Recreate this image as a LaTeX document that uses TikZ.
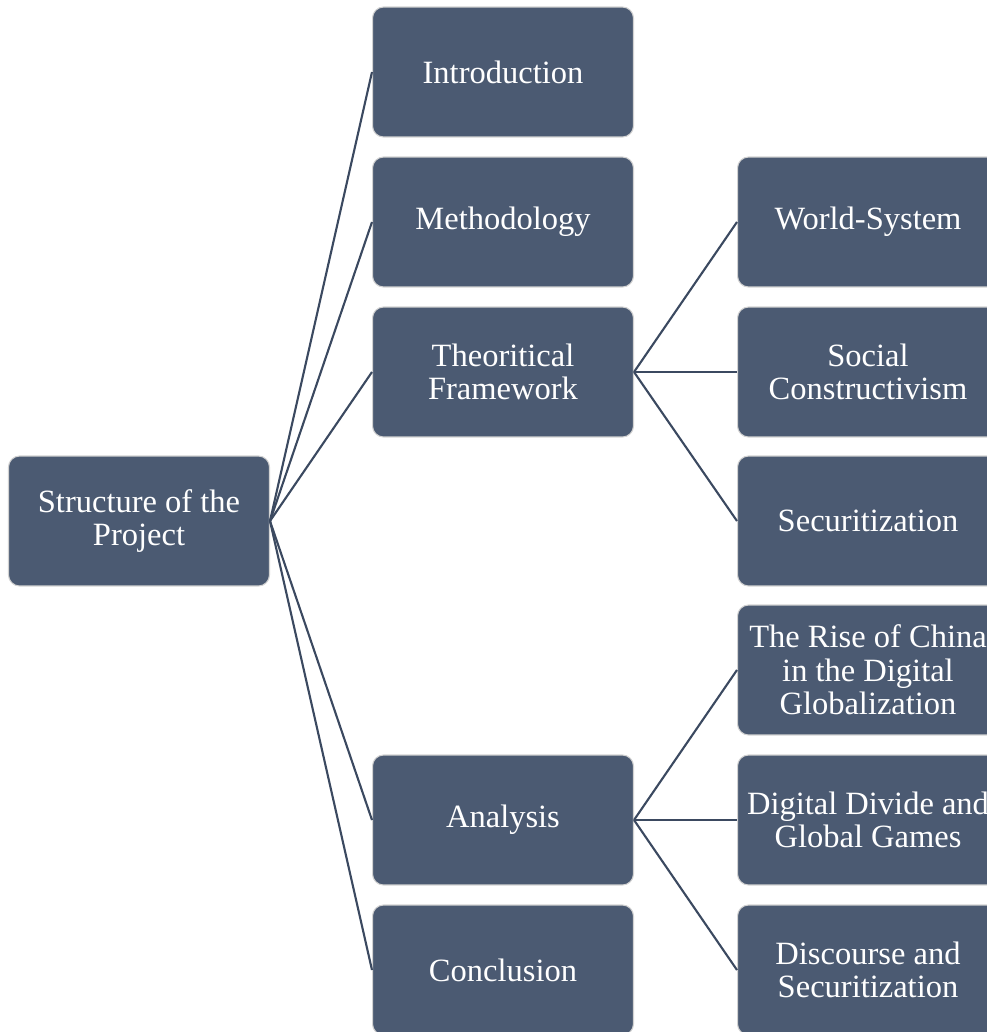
\documentclass[tikz,border=0pt]{standalone}
\usepackage{fontspec}
\setmainfont{Liberation Serif}
\usepackage{tikz}
\usetikzlibrary{positioning}
\definecolor{boxfill}{HTML}{4B5A72}
\definecolor{boxedge}{HTML}{D2D2D2}
\definecolor{linkcol}{HTML}{3B4960}

\begin{document}
\begin{tikzpicture}[x=0.02cm, y=-0.02cm,
    box/.style={draw=boxedge, line width=0.6pt, rectangle, rounded corners=0.22cm, fill=boxfill, text=white, minimum width=5.22cm, minimum height=2.6cm, align=center, inner sep=0pt, font=\fontsize{18.5}{19}\selectfont},
    link/.style={draw=linkcol, line width=1.2pt}]
    \useasboundingbox (0,0) rectangle (987,1032);
    \clip (0,0) rectangle (987,1032);

    % root
    \node[box] (root) at (139,521) {Structure of the\\Project};

    % first level
    \node[box] (intro) at (503,72) {Introduction};
    \node[box] (method) at (503,222) {Methodology};
    \node[box] (theory) at (503,372) {Theoritical\\Framework};
    \node[box] (analysis) at (503,820) {Analysis};
    \node[box] (concl) at (503,970) {Conclusion};

    % second level
    \node[box] (worldsys) at (868,222) {World-System};
    \node[box] (constr) at (868,372) {Social\\Constructivism};
    \node[box] (secur) at (868,521) {Securitization};
    \node[box] (china) at (868,670) {The Rise of China\\in the Digital\\Globalization};
    \node[box] (divide) at (868,820) {Digital Divide and\\Global Games};
    \node[box] (discourse) at (868,970) {Discourse and\\Securitization};

    \foreach \n in {intro,method,theory,analysis,concl}
        \draw[link] (root.east) -- (\n.west);
    \foreach \n in {worldsys,constr,secur}
        \draw[link] (theory.east) -- (\n.west);
    \foreach \n in {china,divide,discourse}
        \draw[link] (analysis.east) -- (\n.west);
\end{tikzpicture}
\end{document}
